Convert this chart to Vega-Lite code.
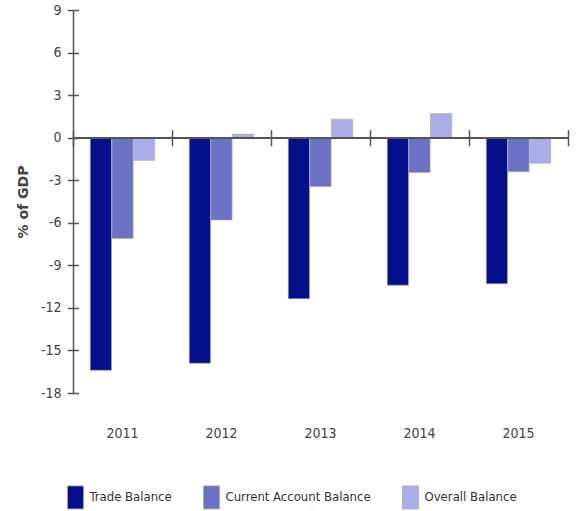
{
  "$schema": "https://vega.github.io/schema/vega-lite/v6.json",
  "autosize": "none",
  "width": 495,
  "height": 383,
  "padding": {"left": 73, "top": 10, "right": 8, "bottom": 118},
  "background": "white",
  "config": {
    "view": {"stroke": null},
    "font": "DejaVu Sans Condensed, DejaVu Sans, sans-serif"
  },
  "data": {
    "values": [
      {"year": "2011", "series": "Trade Balance", "value": -16.4},
      {"year": "2011", "series": "Current Account Balance", "value": -7.1},
      {"year": "2011", "series": "Overall Balance", "value": -1.6},
      {"year": "2012", "series": "Trade Balance", "value": -15.9},
      {"year": "2012", "series": "Current Account Balance", "value": -5.8},
      {"year": "2012", "series": "Overall Balance", "value": 0.25},
      {"year": "2013", "series": "Trade Balance", "value": -11.35},
      {"year": "2013", "series": "Current Account Balance", "value": -3.45},
      {"year": "2013", "series": "Overall Balance", "value": 1.3},
      {"year": "2014", "series": "Trade Balance", "value": -10.4},
      {"year": "2014", "series": "Current Account Balance", "value": -2.45},
      {"year": "2014", "series": "Overall Balance", "value": 1.7},
      {"year": "2015", "series": "Trade Balance", "value": -10.3},
      {"year": "2015", "series": "Current Account Balance", "value": -2.4},
      {"year": "2015", "series": "Overall Balance", "value": -1.8}
    ]
  },
  "resolve": {"axis": {"x": "independent", "y": "independent"}},
  "layer": [
    {
      "mark": {"type": "bar", "stroke": "#aaaaaa", "strokeWidth": 0.6},
      "encoding": {
        "x": {
          "field": "year", "type": "nominal",
          "scale": {"paddingInner": 0, "paddingOuter": 0},
          "axis": {
            "orient": "bottom", "title": null, "domain": false, "ticks": false, "tickSize": 0,
            "labelPadding": 33, "labelAngle": 0, "labelFontSize": 14, "labelColor": "#444444"
          }
        },
        "xOffset": {
          "field": "series", "type": "nominal",
          "sort": ["Trade Balance", "Current Account Balance", "Overall Balance"],
          "scale": {"paddingOuter": 0.8, "paddingInner": 0.02}
        },
        "y": {
          "field": "value", "type": "quantitative",
          "scale": {"domain": [-18, 9], "nice": false, "zero": false},
          "axis": {
            "orient": "left", "values": [-18, -15, -12, -9, -6, -3, 0, 3, 6, 9],
            "labelExpr": "'' + datum.value",
            "grid": false, "domain": true, "domainColor": "#555555", "domainWidth": 1.5,
            "ticks": false, "tickSize": 0, "labelPadding": 12, "labelFontSize": 14, "labelColor": "#444444",
            "title": "% of GDP", "titleFont": "DejaVu Sans, sans-serif", "titleFontSize": 14, "titleFontWeight": "bold",
            "titleColor": "#444444", "titlePadding": 10
          }
        },
        "color": {
          "field": "series", "type": "nominal",
          "sort": ["Trade Balance", "Current Account Balance", "Overall Balance"],
          "scale": {
            "domain": ["Trade Balance", "Current Account Balance", "Overall Balance"],
            "range": ["#050f8a", "#6b72c6", "#a9ade8"]
          },
          "legend": {
            "orient": "none", "legendX": -9.5, "legendY": 475, "direction": "horizontal",
            "title": null,
            "symbolType": "M-0.7,-1H0.7V1H-0.7Z", "symbolSize": 529,
            "symbolStrokeColor": "#aaaaaa", "symbolStrokeWidth": 0.8, "symbolOpacity": 1,
            "labelFontSize": 13, "labelColor": "#333333", "labelOffset": 2, "columnPadding": 27,
            "labelLimit": 300
          }
        }
      }
    },
    {
      "mark": {"type": "rule", "color": "#555555", "strokeWidth": 1.5},
      "encoding": {
        "y": {"datum": 0, "type": "quantitative", "axis": null}
      }
    },
    {
      "mark": {"type": "bar", "opacity": 0},
      "encoding": {
        "x": {
          "field": "year", "type": "nominal",
          "axis": {
            "orient": "bottom", "title": null, "domain": false, "labels": false,
            "ticks": true, "tickBand": "extent", "tickSize": 16, "tickColor": "#555555", "tickWidth": 1.5,
            "offset": -263.3
          }
        },
        "y": {
          "field": "value", "type": "quantitative",
          "axis": {
            "orient": "left", "values": [-18, -15, -12, -9, -6, -3, 0, 3, 6, 9],
            "grid": false, "domain": false, "labels": false, "title": null,
            "ticks": true, "tickSize": 11, "tickColor": "#555555", "tickWidth": 1.5,
            "offset": -5.5
          }
        }
      }
    }
  ]
}
